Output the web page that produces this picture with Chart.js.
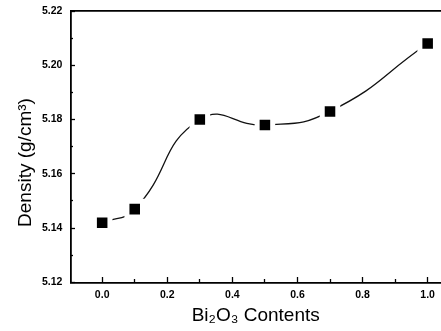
<!DOCTYPE html>
<html><head><meta charset="utf-8">
<script src="https://cdn.jsdelivr.net/npm/chart.js@4/dist/chart.umd.min.js"></script>
<style>html,body{margin:0;padding:0;background:#fff}#wrap{width:441px;height:331px}</style>
</head><body><div id="wrap"><canvas id="c"></canvas></div>
<script>
const contents = [0, 0.1, 0.3, 0.5, 0.7, 1.0];
const density = [5.142, 5.147, 5.180, 5.178, 5.183, 5.208];
const xMajorTicks = [0, 0.2, 0.4, 0.6, 0.8, 1.0];
const xMinorTicks = [0.1, 0.3, 0.5, 0.7, 0.9];
const yMajorTicks = [5.12, 5.14, 5.16, 5.18, 5.20, 5.22];
const yMinorTicks = [5.13, 5.15, 5.17, 5.19, 5.21];
const xTitle = 'Bi\u2082O\u2083 Contents';
const yTitle = 'Density (g/cm\u00B3)      ';

const X_MIN = -0.0975, X_MAX = 1.041, Y_MIN = 5.12, Y_MAX = 5.22;
const pts = contents.map((x, i) => ({x, y: density[i]}));
const fontTick = {family: 'Liberation Sans, Arial', size: 10.5, weight: 'bold'};
const fontTitle = {family: 'Liberation Sans, Arial', size: 19, lineHeight: 1};
const setTicks = arr => s => { s.ticks = arr.map(v => ({value: v})); };

function tickAxis(axis, arr, len, pos) {
  const o = {
    type: 'linear', position: pos,
    min: axis === 'x' ? X_MIN : Y_MIN, max: axis === 'x' ? X_MAX : Y_MAX,
    afterBuildTicks: setTicks(arr),
    ticks: {display: false},
    grid: {drawOnChartArea: false, tickLength: -len, tickColor: '#000', tickWidth: 1.3},
    border: {display: false}
  };
  o.axis = axis;
  return o;
}

new Chart(document.getElementById('c'), {
  type: 'line',
  data: {datasets: [{
    data: pts,
    borderColor: '#111',
    borderWidth: 1.3,
    tension: 0.5,
    pointStyle: 'rect',
    pointRadius: 11,
    pointBackgroundColor: '#000',
    pointBorderColor: '#fff',
    pointBorderWidth: 5,
    fill: false,
    clip: false
  }]},
  options: {
    responsive: true, maintainAspectRatio: false, animation: false, events: [],
    layout: {autoPadding: false, padding: {top: 11, right: 0, left: 16, bottom: 2}},
    plugins: {legend: {display: false}, tooltip: {enabled: false}},
    scales: {
      x: {
        type: 'linear', min: X_MIN, max: X_MAX,
        afterBuildTicks: setTicks(xMajorTicks),
        ticks: {color: '#000', font: fontTick, padding: 3, maxRotation: 0, autoSkip: false,
          callback: v => v.toFixed(1)},
        grid: {drawOnChartArea: false, tickLength: 3, tickColor: 'rgba(0,0,0,0)'},
        border: {color: '#000', width: 1.8},
        title: {display: true, text: xTitle, color: '#000', font: fontTitle, padding: {top: 2, bottom: 4}}
      },
      x2: {
        type: 'linear', position: 'top', min: X_MIN, max: X_MAX,
        ticks: {display: false},
        grid: {drawOnChartArea: false, drawTicks: false},
        border: {color: '#000', width: 1.8}
      },
      xMaj: tickAxis('x', xMajorTicks, 5, {y: Y_MIN}),
      xMin: tickAxis('x', xMinorTicks, 3, {y: Y_MIN}),
      y: {
        type: 'linear', min: Y_MIN, max: Y_MAX,
        afterBuildTicks: setTicks(yMajorTicks),
        ticks: {color: '#000', font: fontTick, padding: 4, autoSkip: false,
          callback: v => v.toFixed(2)},
        grid: {drawOnChartArea: false, tickLength: 4, tickColor: 'rgba(0,0,0,0)'},
        border: {color: '#000', width: 1.8},
        title: {display: true, text: yTitle, color: '#000', font: fontTitle, padding: {top: 0, bottom: 3}}
      },
      yMaj: tickAxis('y', yMajorTicks, 5, {x: X_MIN}),
      yMin: tickAxis('y', yMinorTicks, 3, {x: X_MIN})
    }
  }
});
</script></body></html>
